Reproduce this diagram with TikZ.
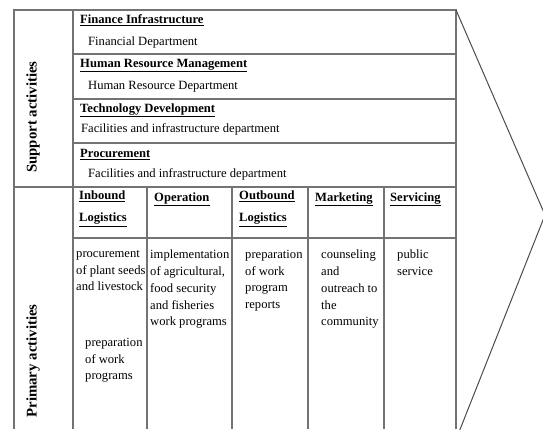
\documentclass[tikz,border=0pt]{standalone}
\usepackage{fontspec}
\setmainfont{Liberation Serif}
\usetikzlibrary{positioning}

\newcommand{\hd}[1]{\underline{\textbf{#1}}}

\begin{document}
\begin{tikzpicture}[x=1pt,y=-1pt,
    grid/.style={draw=black!55,line width=1.2pt},
    txt/.style={anchor=north west,inner sep=0pt,align=left,
      font=\fontsize{12.6}{16.7}\selectfont,
      execute at begin node=\rule{0pt}{10pt}},
    side/.style={rotate=90,inner sep=0pt,
      font=\fontsize{14.8}{16}\selectfont\bfseries}]
      \useasboundingbox (0,0) rectangle (543,429);
      \clip (0,0) rectangle (543,429);
      % frame
      \draw[grid] (14,429) -- (14,10) -- (456,10) -- (456,429);
      \draw[grid] (73,10) -- (73,429);
      \draw[grid] (73,54) -- (456,54);
      \draw[grid] (73,99) -- (456,99);
      \draw[grid] (73,143) -- (456,143);
      \draw[grid] (14,187) -- (456,187);
      \draw[grid] (73,238) -- (456,238);
      \foreach \x in {147,232,308,384}
        \draw[grid] (\x,187) -- (\x,429);
      % value arrow
      \draw[black!70,line width=1pt] (456,10) -- (545,215) -- (459,432);
      % side labels
      \node[side] (support) at (33,117) {Support activities};
      \node[side] (primary) at (33,361) {Primary activities};
      % support activities
      \node[txt] (fin) at (80,13) {\hd{Finance Infrastructure}};
      \node[txt] (findep) at (88,35) {Financial Department};
      \node[txt] (hrm) at (80,57) {\hd{Human Resource Management}};
      \node[txt] (hrmdep) at (88,79) {Human Resource Department};
      \node[txt] (tech) at (80,102) {\hd{Technology Development}};
      \node[txt] (techdep) at (81,122) {Facilities and infrastructure department};
      \node[txt] (proc) at (80,147) {\hd{Procurement}};
      \node[txt] (procdep) at (88,167) {Facilities and infrastructure department};
      % primary activities
      \node[txt] (inb) at (79,191) {\hd{Inbound}\\[5pt]\hd{Logistics}};
      \node[txt] (oper) at (154,191) {\hd{Operation}};
      \node[txt] (outb) at (239,191) {\hd{Outbound}\\[5pt]\hd{Logistics}};
      \node[txt] (mark) at (315,191) {\hd{Marketing}};
      \node[txt] (serv) at (390,191) {\hd{Servicing}};
      \node[txt] (inbA) at (76,250) {procurement\\of plant seeds\\and livestock};
      \node[txt] (inbB) at (85,338) {preparation\\of work\\programs};
      \node[txt] (operA) at (150,250) {implementation\\of agricultural,\\food security\\and fisheries\\work programs};
      \node[txt] (outbA) at (245,250) {preparation\\of work\\program\\reports};
      \node[txt] (markA) at (321,250) {counseling\\and\\outreach to\\the\\community};
      \node[txt] (servA) at (397,250) {public\\service};
\end{tikzpicture}
\end{document}
